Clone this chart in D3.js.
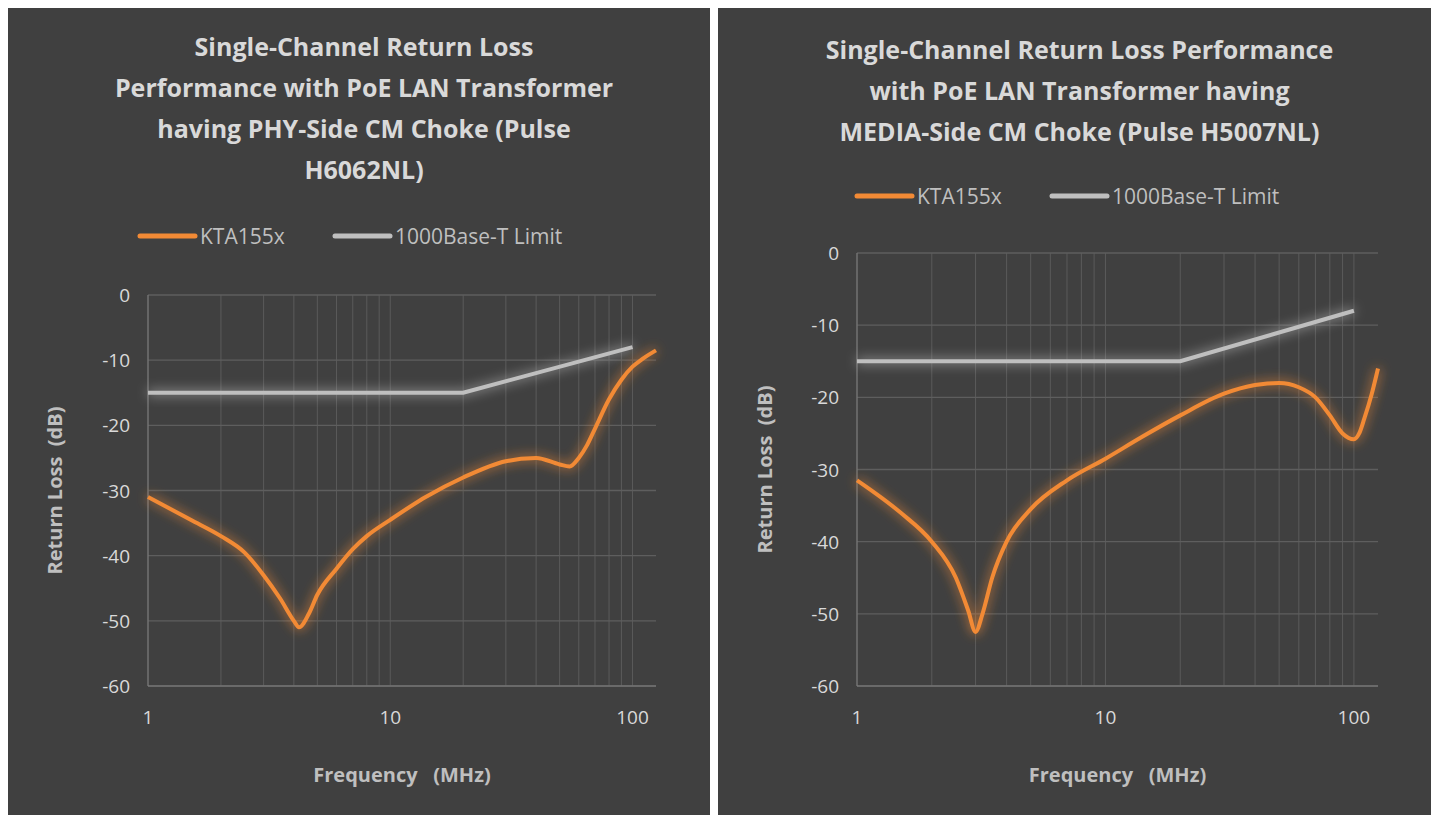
<!DOCTYPE html>
<html><head><meta charset="utf-8">
<script src="https://cdn.jsdelivr.net/npm/d3@7"></script>
<style>body{margin:0;background:#fff;}svg{display:block;font-family:"Open Sans",Calibri,sans-serif;}</style>
</head><body><svg id="c" width="1439" height="822"></svg>
<script>
// KTA155x return loss, PHY-side choke (H6062NL)
const leftFreq = [1, 1.5, 2, 2.5, 3, 3.5, 4, 4.2, 4.6, 5, 6, 7, 8, 10, 14, 20, 30, 40, 50, 55, 60, 65, 70, 80, 90, 100, 110, 125];
const leftLoss = [-31, -34.5, -37, -39.5, -43, -46.5, -50, -51, -49, -46, -42, -39, -37, -34.5, -31, -28, -25.5, -25, -26, -26.3, -25, -23, -20.5, -16, -13, -11, -9.8, -8.5];
// KTA155x return loss, MEDIA-side choke (H5007NL)
const rightFreq = [1, 1.5, 2, 2.5, 2.8, 3, 3.2, 3.5, 4, 5, 7, 10, 14, 20, 30, 40, 50, 60, 70, 80, 90, 100, 105, 110, 118, 125];
const rightLoss = [-31.5, -36, -40, -45, -49.5, -52.5, -50, -45, -40, -35.5, -31.5, -28.5, -25.5, -22.5, -19.5, -18.3, -18, -18.6, -20, -22.5, -25, -25.8, -25, -23, -19.5, -16];
// 1000Base-T limit
const limitFreq = [1, 20, 100];
const limitLoss = [-15, -15, -8];
const yTicks = [0, -10, -20, -30, -40, -50, -60];
const xTicks = [1, 10, 100];

const svg = d3.select('#c');
const defs = svg.append('defs');
const f = defs.append('filter').attr('id', 'glow').attr('x', '-10%').attr('y', '-30%').attr('width', '120%').attr('height', '160%');
f.append('feGaussianBlur').attr('stdDeviation', 6).attr('result', 'b');
const m = f.append('feMerge');
m.append('feMergeNode').attr('in', 'b');
m.append('feMergeNode').attr('in', 'SourceGraphic');

const panels = [
  {x0: 8, w: 702, title: ['Single-Channel Return Loss', 'Performance with PoE LAN Transformer', 'having PHY-Side CM Choke (Pulse', 'H6062NL)'],
   ty: 47, ly: 236, lx: [140, 335], px: [148, 656], py: [295, 686], freq: leftFreq, loss: leftLoss, ytitle: 62},
  {x0: 718, w: 713, title: ['Single-Channel Return Loss Performance', 'with PoE LAN Transformer having', 'MEDIA-Side CM Choke (Pulse H5007NL)'],
   ty: 50, ly: 196, lx: [857, 1052], px: [857, 1378], py: [253, 686], freq: rightFreq, loss: rightLoss, ytitle: 772}
];

panels.forEach(p => {
  const g = svg.append('g');
  g.append('rect').attr('x', p.x0).attr('y', 8).attr('width', p.w).attr('height', 807).attr('fill', '#404040');
  const cx = (p.px[0] + p.px[1]) / 2;
  p.title.forEach((t, i) => g.append('text').attr('x', p.x0 + p.w / 2 + 5).attr('y', p.ty + i * 41 + 9)
    .attr('text-anchor', 'middle').attr('fill', '#d9d9d9').attr('font-size', 25).attr('font-weight', 'bold').text(t));

  // legend
  [['KTA155x', '#f28a35'], ['1000Base-T Limit', '#bfbfbf']].forEach((d, i) => {
    const lx = p.lx[i];
    g.append('line').attr('x1', lx).attr('x2', lx + 55).attr('y1', p.ly).attr('y2', p.ly)
      .attr('stroke', d[1]).attr('stroke-width', 5).attr('stroke-linecap', 'round');
    g.append('text').attr('x', lx + 60).attr('y', p.ly + 8).attr('fill', '#bfbfbf').attr('font-size', 21).text(d[0]);
  });

  const x = d3.scaleLog().domain([1, 125]).range(p.px);
  const y = d3.scaleLinear().domain([-60, 0]).range([p.py[1], p.py[0]]);

  // minor vertical grid
  const minor = [];
  for (let d = 1; d <= 100; d *= 10) for (let k = 1; k < 10; k++) if (d * k <= 125) minor.push(d * k);
  g.selectAll('.vg').data(minor).join('line').attr('x1', d => x(d)).attr('x2', d => x(d))
    .attr('y1', p.py[0]).attr('y2', p.py[1]).attr('stroke', '#5a5a5a').attr('stroke-width', 1);
  g.selectAll('.hg').data(yTicks).join('line').attr('x1', p.px[0]).attr('x2', p.px[1])
    .attr('y1', d => y(d)).attr('y2', d => y(d)).attr('stroke', '#5e5e5e').attr('stroke-width', 1.3);
  g.append('line').attr('x1', p.px[0]).attr('x2', p.px[0]).attr('y1', p.py[0]).attr('y2', p.py[1]).attr('stroke', '#7f7f7f');
  g.append('line').attr('x1', p.px[0]).attr('x2', p.px[1]).attr('y1', p.py[1]).attr('y2', p.py[1]).attr('stroke', '#7f7f7f');

  g.selectAll('.yl').data(yTicks).join('text').attr('x', p.px[0] - 18).attr('y', d => y(d) + 7)
    .attr('text-anchor', 'end').attr('fill', '#d9d9d9').attr('font-size', 19).text(d => d);
  g.selectAll('.xl').data(xTicks).join('text').attr('x', d => x(d)).attr('y', p.py[1] + 38)
    .attr('text-anchor', 'middle').attr('fill', '#d9d9d9').attr('font-size', 19).text(d => d);

  g.append('text').attr('x', cx).attr('y', 782).attr('text-anchor', 'middle').attr('fill', '#bfbfbf')
    .attr('font-size', 20).attr('font-weight', 'bold').attr('xml:space', 'preserve').text('Frequency   (MHz)');
  const my = (p.py[0] + p.py[1]) / 2;
  g.append('text').attr('transform', `translate(${p.ytitle},${my}) rotate(-90)`).attr('text-anchor', 'middle')
    .attr('fill', '#bfbfbf').attr('font-size', 20).attr('font-weight', 'bold').attr('xml:space', 'preserve').text('Return Loss  (dB)');

  const line = d3.line().x(d => x(d[0])).y(d => y(d[1]));
  const lineC = d3.line().x(d => x(d[0])).y(d => y(d[1])).curve(d3.curveMonotoneX);
  g.append('path').attr('d', line(d3.zip(limitFreq, limitLoss))).attr('fill', 'none')
    .attr('stroke', '#bfbfbf').attr('stroke-width', 4).attr('filter', 'url(#glow)');
  g.append('path').attr('d', lineC(d3.zip(p.freq, p.loss))).attr('fill', 'none')
    .attr('stroke', '#f28a35').attr('stroke-width', 4).attr('filter', 'url(#glow)');
});
</script></body></html>
